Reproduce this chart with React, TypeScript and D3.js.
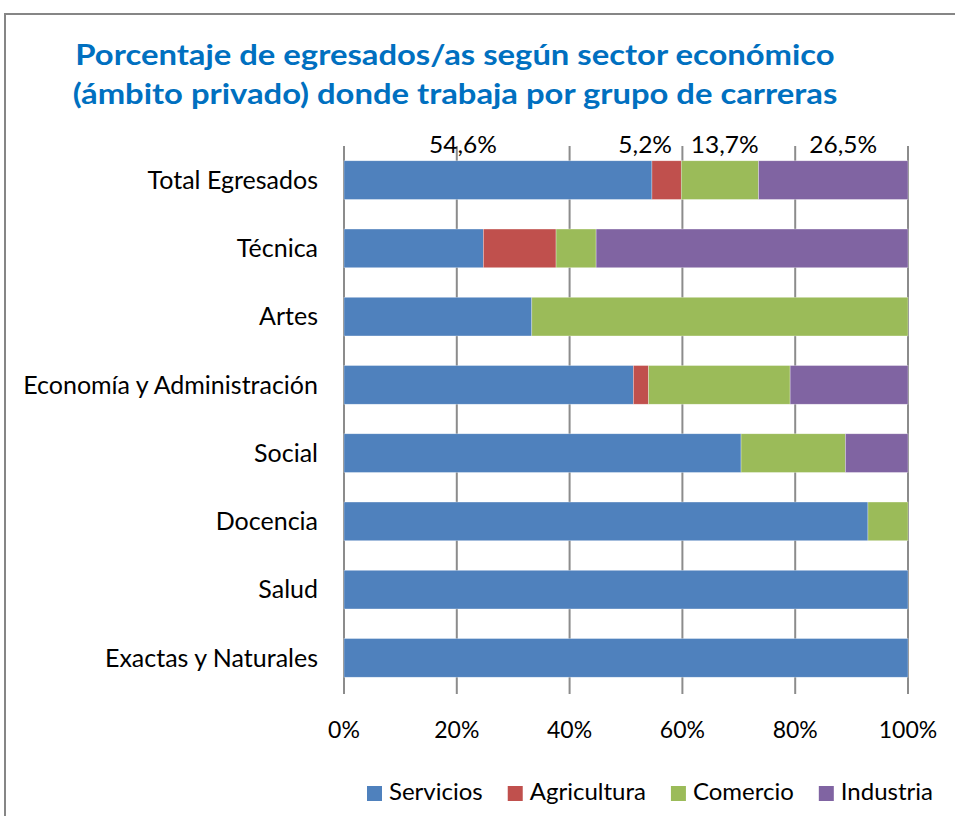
import React, { useEffect, useRef } from "react";
import * as d3 from "d3";

const categories = [
  "Total Egresados",
  "Técnica",
  "Artes",
  "Economía y Administración",
  "Social",
  "Docencia",
  "Salud",
  "Exactas y Naturales",
];
const seriesNames = ["Servicios", "Agricultura", "Comercio", "Industria"];
const seriesColors = ["#4F81BD", "#C0504D", "#9BBB59", "#8064A2"];
const servicios = [54.6, 24.7, 33.3, 51.3, 70.4, 92.9, 100, 100];
const agricultura = [5.2, 12.9, 0, 2.7, 0, 0, 0, 0];
const comercio = [13.7, 7.1, 66.7, 25.1, 18.5, 7.1, 0, 0];
const industria = [26.5, 55.3, 0, 20.9, 11.1, 0, 0, 0];
const xTicks = [0, 20, 40, 60, 80, 100];
const totalLabels = ["54,6%", "5,2%", "13,7%", "26,5%"];
const totalLabelPos = [21.1, 53.4, 67.5, 88.5];
const titleLines = [
  "Porcentaje de egresados/as según sector económico",
  "(ámbito privado) donde trabaja por grupo de carreras",
];

const W = 955;
const H = 816;
const FONT = "Lato, 'Open Sans', sans-serif";

function stretch(sel: any, factor: number) {
  sel.each(function (this: SVGTextElement) {
    const len = this.getComputedTextLength();
    d3.select(this)
      .attr("textLength", len * factor)
      .attr("lengthAdjust", "spacingAndGlyphs");
  });
}

export default function App() {
  const ref = useRef<SVGSVGElement | null>(null);

  useEffect(() => {
    const svg = d3.select(ref.current);
    svg.selectAll("*").remove();

    // frame
    svg
      .append("rect")
      .attr("x", 5)
      .attr("y", 14)
      .attr("width", 1000)
      .attr("height", 900)
      .attr("fill", "#fff")
      .attr("stroke", "#868686")
      .attr("stroke-width", 2);

    // title
    const title = svg
      .append("g")
      .selectAll("text")
      .data(titleLines)
      .join("text")
      .attr("x", 455)
      .attr("y", (d, i) => 65 + i * 39)
      .attr("text-anchor", "middle")
      .attr("font-family", FONT)
      .attr("font-weight", "bold")
      .attr("font-size", 28.5)
      .attr("fill", "#0070C0")
      .text((d) => d);
    stretch(title, 1.15);

    const x = d3.scaleLinear().domain([0, 100]).range([344, 908]);
    const y = d3
      .scaleBand<string>()
      .domain(categories)
      .range([146, 692])
      .paddingInner(0.433)
      .paddingOuter(0.2165);

    // gridlines
    svg
      .append("g")
      .selectAll("line")
      .data(xTicks)
      .join("line")
      .attr("x1", (d) => x(d))
      .attr("x2", (d) => x(d))
      .attr("y1", 146)
      .attr("y2", 694)
      .attr("stroke", "#8C8C8C")
      .attr("stroke-width", 2);

    // stacked bars
    const rows = categories.map((c, i) => ({
      cat: c,
      Servicios: servicios[i],
      Agricultura: agricultura[i],
      Comercio: comercio[i],
      Industria: industria[i],
    }));
    const stack = d3.stack<any>().keys(seriesNames);
    const layers = stack(rows);
    layers.forEach((layer, li) => {
      svg
        .append("g")
        .attr("fill", seriesColors[li])
        .selectAll("rect")
        .data(layer.filter((d) => d[1] - d[0] > 0))
        .join("rect")
        .attr("x", (d) => x(d[0]))
        .attr("width", (d) => x(d[1]) - x(d[0]))
        .attr("y", (d) => y(d.data.cat)!)
        .attr("height", y.bandwidth())
        .attr("stroke", "rgba(255,255,255,0.5)")
        .attr("stroke-width", 0.6);
    });

    // data labels for total
    const dl = svg
      .append("g")
      .selectAll("text")
      .data(totalLabels)
      .join("text")
      .attr("x", (d, i) => x(totalLabelPos[i]))
      .attr("y", 153)
      .attr("text-anchor", "middle")
      .attr("font-family", FONT)
      .attr("font-size", 24)
      .attr("fill", "#000")
      .text((d) => d);
    stretch(dl, 1.02);

    // category labels
    svg
      .append("g")
      .selectAll("text")
      .data(categories)
      .join("text")
      .attr("x", 318)
      .attr("y", (d) => y(d)! + y.bandwidth() / 2)
      .attr("dy", "0.35em")
      .attr("text-anchor", "end")
      .attr("font-family", FONT)
      .attr("font-size", 25)
      .attr("fill", "#000")
      .text((d) => d);

    // tick labels
    svg
      .append("g")
      .selectAll("text")
      .data(xTicks)
      .join("text")
      .attr("x", (d) => x(d))
      .attr("y", 738)
      .attr("text-anchor", "middle")
      .attr("font-family", FONT)
      .attr("font-size", 23)
      .attr("fill", "#000")
      .text((d) => `${d}%`);

    // legend
    const lg = svg.append("g");
    const items = seriesNames.map((name, i) => {
      const g = lg.append("g");
      g.append("rect")
        .attr("x", 0)
        .attr("y", -14)
        .attr("width", 15)
        .attr("height", 15)
        .attr("fill", seriesColors[i]);
      const t = g
        .append("text")
        .attr("x", 22)
        .attr("y", 0)
        .attr("font-family", FONT)
        .attr("font-size", 24)
        .attr("fill", "#000")
        .text(name);
      const w = 22 + (t.node() as SVGTextElement).getComputedTextLength();
      return { g, w };
    });
    const gap = 25;
    const total = items.reduce((s, it) => s + it.w, 0) + gap * (items.length - 1);
    let cx = 933 - total;
    items.forEach((it) => {
      it.g.attr("transform", `translate(${cx},800)`);
      cx += it.w + gap;
    });
  }, []);

  return (
    <svg
      ref={ref}
      width={W}
      height={H}
      style={{ position: "absolute", left: 0, top: 0, background: "#fff" }}
    />
  );
}
